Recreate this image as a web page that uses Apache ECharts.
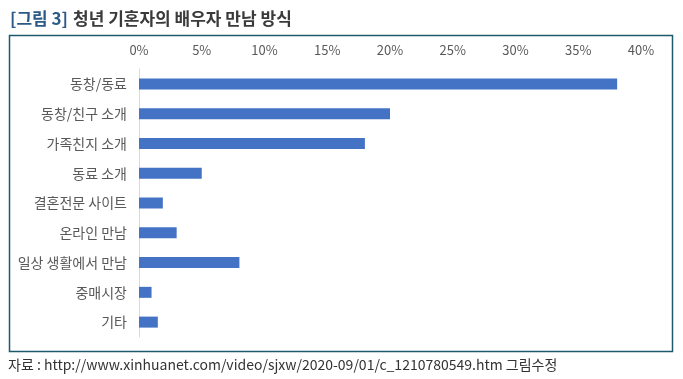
<!DOCTYPE html>
<html><head><meta charset="utf-8">
<script src="https://cdn.jsdelivr.net/npm/echarts@6/dist/echarts.min.js"></script>
<style>html,body{margin:0;padding:0;background:#fff}#c{width:683px;height:379px}</style>
</head><body><div id="c"></div>
<script>
const categories = ['동창/동료','동창/친구 소개','가족친지 소개','동료 소개','결혼전문 사이트','온라인 만남','일상 생활에서 만남','중매시장','기타'];
const values = [38.1, 20.0, 18.0, 5.0, 1.9, 3.0, 8.0, 1.0, 1.5];
const xTicks = [0, 5, 10, 15, 20, 25, 30, 35, 40];
const titleTag = '[그림 3]';
const titleText = '청년 기혼자의 배우자 만남 방식';
const sourceText = '자료 : http://www.xinhuanet.com/video/sjxw/2020-09/01/c_1210780549.htm 그림수정';

const FONT = '"Noto Sans CJK KR", sans-serif';
const chart = echarts.init(document.getElementById('c'));
chart.setOption({
  animation: false,
  title: {
    text: '{a|' + titleTag + '} {b|' + titleText + '}',
    left: 5, top: 5,
    textStyle: {
      rich: {
        a: {color: '#2a5a86', fontSize: 17, fontFamily: FONT, fontWeight: 'bold'},
        b: {color: '#3a3a3a', fontSize: 17, fontFamily: FONT, fontWeight: 'bold'}
      }
    }
  },
  graphic: [
    {type: 'rect', shape: {x: 9.5, y: 35.5, width: 663, height: 316}, style: {fill: 'none', stroke: '#1e5a6e', lineWidth: 1.5}, silent: true},
    {type: 'text', left: 8, top: 358, style: {text: sourceText, fill: '#333', fontSize: 14, fontFamily: FONT}}
  ],
  grid: {left: 139, right: 42, top: 69, bottom: 42},
  xAxis: {
    type: 'value', position: 'top', min: xTicks[0], max: xTicks[xTicks.length - 1], interval: 5,
    axisLine: {show: false}, axisTick: {show: false}, splitLine: {show: false},
    axisLabel: {formatter: '{value}%', color: '#595959', fontSize: 13, fontFamily: FONT, margin: 12}
  },
  yAxis: {
    type: 'category', data: categories, inverse: true,
    axisLine: {show: true, lineStyle: {color: '#d9d9d9', width: 1}},
    axisTick: {show: false},
    axisLabel: {color: '#595959', fontSize: 14, fontFamily: FONT, margin: 12}
  },
  series: [{
    type: 'bar', data: values, barWidth: 11,
    itemStyle: {color: '#4472c4'}
  }]
});
</script></body></html>
